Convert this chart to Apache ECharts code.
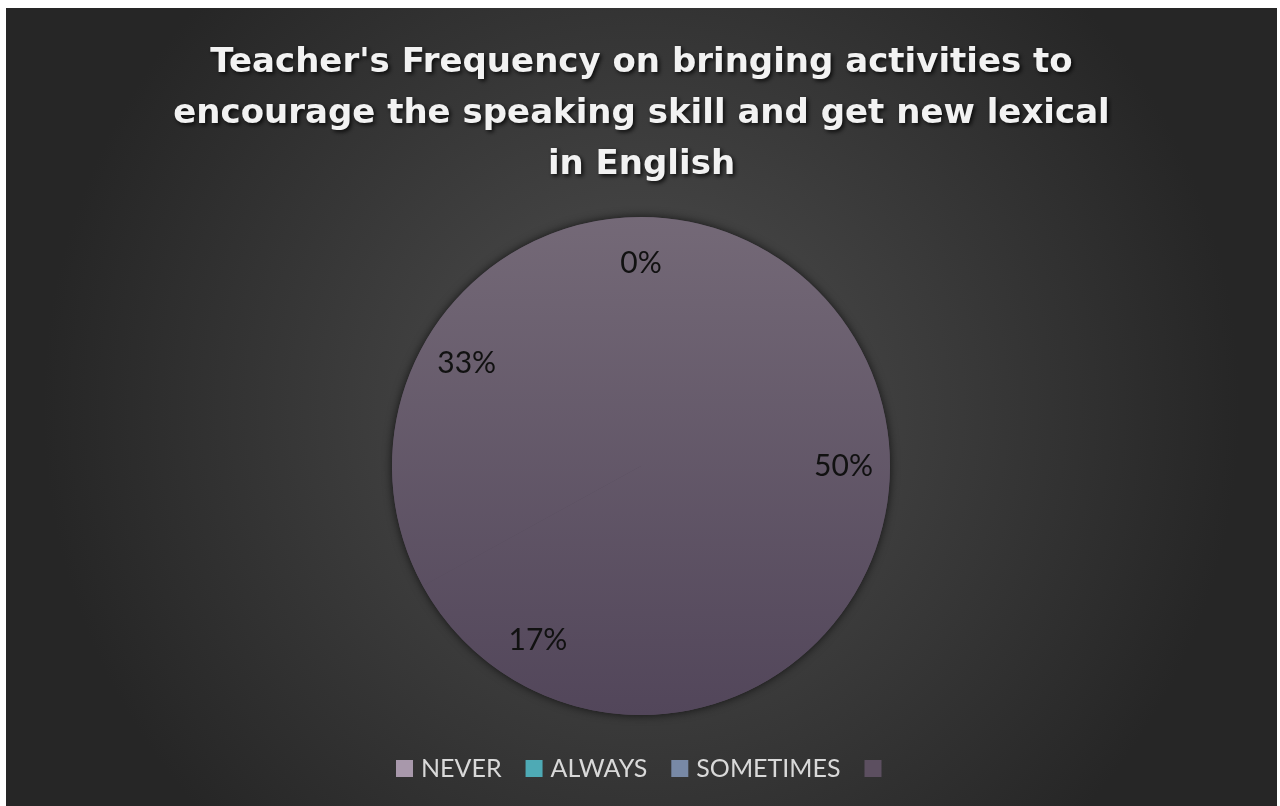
<!DOCTYPE html>
<html>
<head>
<meta charset="utf-8">
<script src="https://cdn.jsdelivr.net/npm/echarts@6/dist/echarts.min.js"></script>
<style>
html,body{margin:0;padding:0;background:#ffffff;width:1280px;height:806px;overflow:hidden;}
#chart{position:absolute;left:6px;top:8px;width:1271px;height:798px;}
</style>
</head>
<body>
<div id="chart"></div>
<script>
const titleText = "Teacher's Frequency on bringing activities to\nencourage the speaking skill and get new lexical\nin English";
const categories = ["NEVER", "ALWAYS", "SOMETIMES", "\u00a0"];
const percentValues = [0, 50, 17, 33];
const legendColors = ["#a898ab", "#4eaab5", "#7889a6", "#5c4f60"];

const CX = 635, CY = 458, R = 249;
const chart = echarts.init(document.getElementById('chart'), null, {renderer: 'canvas'});
const sliceFill = new echarts.graphic.LinearGradient(0, CY - R, 0, CY + R, [
  {offset: 0, color: '#746977'},
  {offset: 1, color: '#52465a'}
], true);
const data = categories.map((c, i) => ({name: c, value: percentValues[i]}));
const option = {
  backgroundColor: new echarts.graphic.RadialGradient(0.5, 0.5, 0.75, [
    {offset: 0, color: '#4f4f4f'},
    {offset: 1, color: '#262626'}
  ]),
  animation: false,
  title: {
    text: titleText,
    left: 'center',
    top: 25,
    textStyle: {
      color: '#f2f2f2',
      fontFamily: 'DejaVu Sans',
      fontWeight: 'bold',
      fontSize: 34,
      lineHeight: 51,
      textShadowColor: 'rgba(0,0,0,0.8)',
      textShadowBlur: 4,
      textShadowOffsetX: 2,
      textShadowOffsetY: 2
    }
  },
  legend: {
    bottom: 20,
    left: 385,
    itemWidth: 17,
    itemHeight: 17,
    itemGap: 24,
    icon: 'rect',
    textStyle: {color: '#d9d9d9', fontFamily: 'Lato', fontSize: 25, padding: [0, 0, 0, 3]},
    data: categories.map((c, i) => ({name: c, itemStyle: {color: legendColors[i]}}))
  },
  series: [
    {
      type: 'pie',
      center: [CX, CY],
      radius: [0, R],
      silent: true,
      data: [{name: 'shadow', value: 1}],
      label: {show: false},
      labelLine: {show: false},
      itemStyle: {
        color: '#54495a',
        shadowColor: 'rgba(0,0,0,0.7)',
        shadowBlur: 10
      }
    },
    {
      type: 'pie',
      center: [CX, CY],
      radius: [0, R],
      startAngle: 90,
      clockwise: true,
      silent: true,
      data: data,
      label: {show: false},
      labelLine: {show: false},
      itemStyle: {color: sliceFill, borderWidth: 0}
    },
    {
      type: 'pie',
      center: [CX, CY],
      radius: [150, R],
      startAngle: 90,
      clockwise: true,
      silent: true,
      data: data,
      itemStyle: {color: 'rgba(0,0,0,0)', borderWidth: 0},
      labelLine: {show: false},
      label: {
        show: true,
        position: 'inside',
        formatter: p => p.value + '%',
        color: '#111111',
        fontFamily: 'Lato',
        fontSize: 30
      }
    }
  ]
};
chart.setOption(option);
</script>
</body>
</html>
